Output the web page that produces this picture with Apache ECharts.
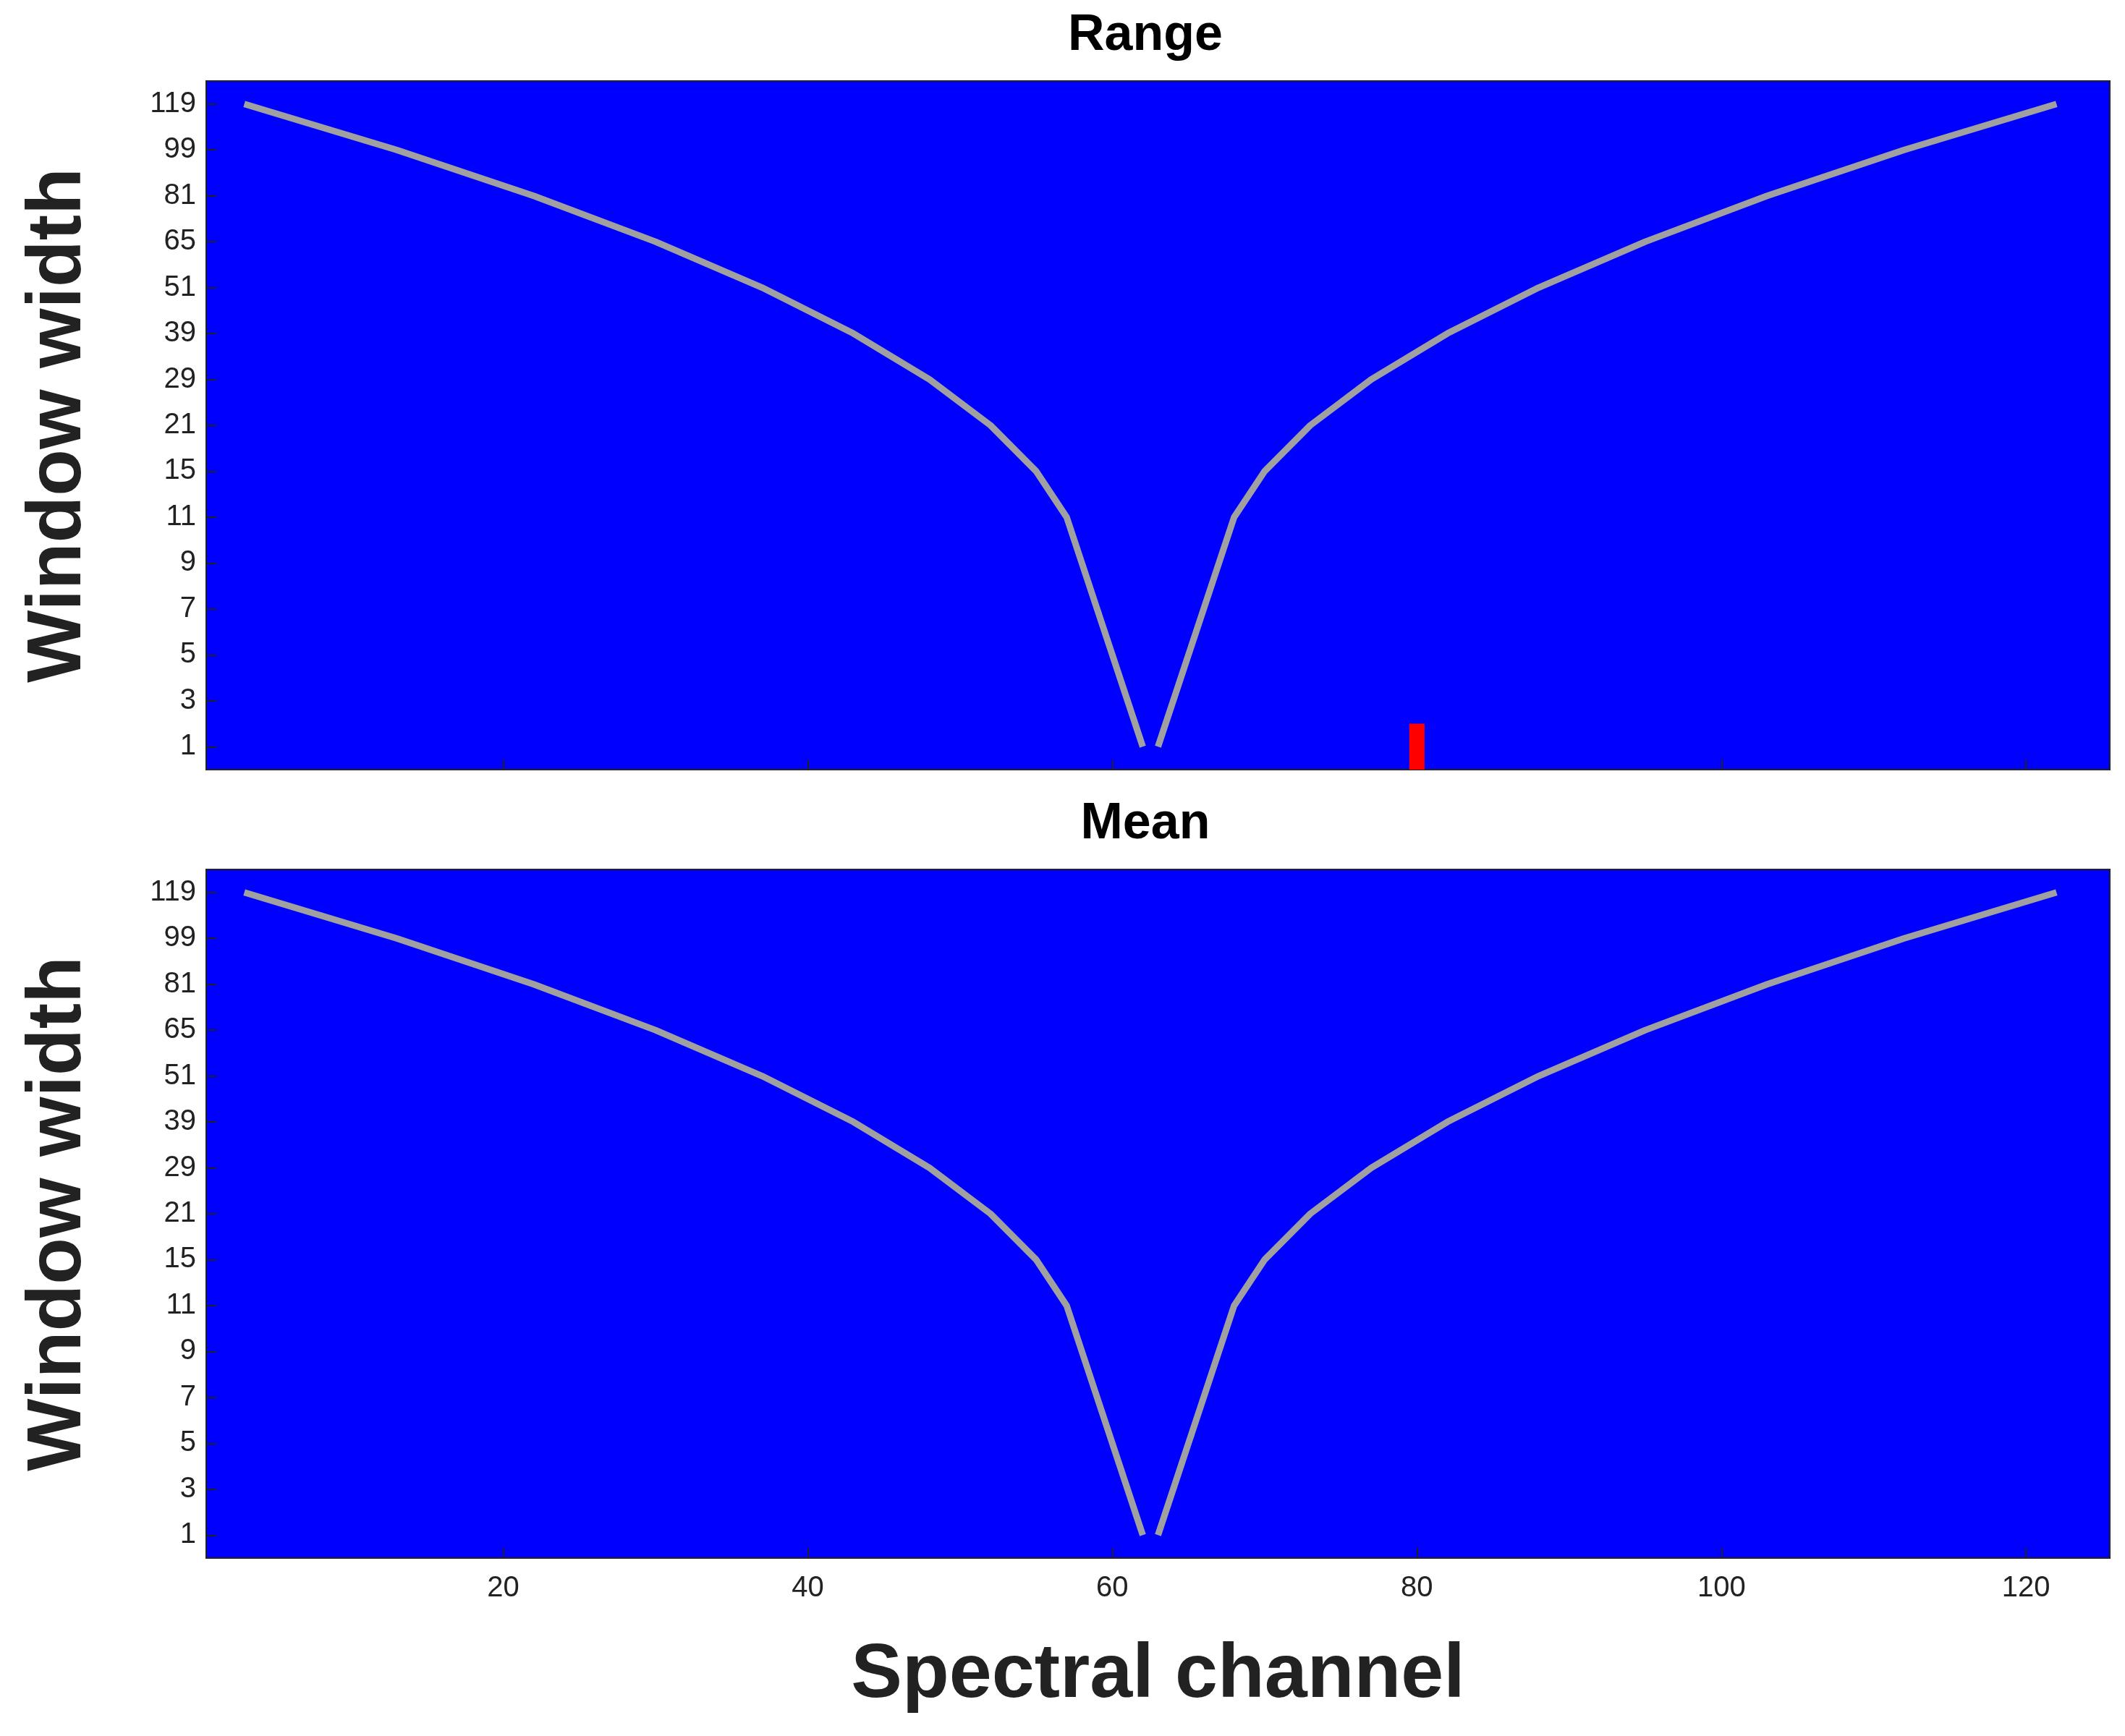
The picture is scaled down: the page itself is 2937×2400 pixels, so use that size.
<!DOCTYPE html>
<html>
<head>
<meta charset="utf-8">
<script src="https://cdn.jsdelivr.net/npm/echarts@6/dist/echarts.min.js"></script>
<style>html,body{margin:0;background:#fff}#c{width:2937px;height:2400px}</style>
</head>
<body>
<div id="c"></div>
<script>
// Window widths (y categories)
const widths = ['1', '3', '5', '7', '9', '11', '15', '21', '29', '39', '51', '65', '81', '99', '119'];
const xTicks = [20, 40, 60, 80, 100, 120];

// Gray boundary line, two branches (channel, window width)
const leftX = [3, 13, 22, 30, 37, 43, 48, 52, 55, 57, 62];
const leftW = ['119', '99', '81', '65', '51', '39', '29', '21', '15', '11', '1'];
const rightX = [63, 68, 70, 73, 77, 82, 88, 95, 103, 112, 122];
const rightW = ['1', '11', '15', '21', '29', '39', '51', '65', '81', '99', '119'];

// Red cells (Range panel only)
const redCells = [[80, '1']];

const font = 'Liberation Sans, Arial, sans-serif';
const grids = [
  { left: 285, right: 21, top: 112, height: 952 },
  { left: 285, right: 21, top: 1202, height: 952 },
];

const chart = echarts.init(document.getElementById('c'));

function pairs(xs, ws) {
  return xs.map((x, i) => [x, ws[i]]);
}

const option = {
  backgroundColor: '#fff',
  animation: false,
  title: [
    { text: 'Range', left: 1578, top: 10, textAlign: 'center', textStyle: { fontFamily: font, fontSize: 70, fontWeight: 'bold', color: '#000' } },
    { text: 'Mean', left: 1578, top: 1100, textAlign: 'center', textStyle: { fontFamily: font, fontSize: 70, fontWeight: 'bold', color: '#000' } },
  ],
  grid: grids.map((g) => ({ ...g, show: true, backgroundColor: '#0000ff', borderColor: '#222', borderWidth: 2 })),
  xAxis: grids.map((g, i) => ({
    type: 'value',
    gridIndex: i,
    min: 0.5,
    max: 125.5,
    splitLine: { show: false },
    axisLine: { show: false },
    axisTick: { show: true, inside: true, length: 14, customValues: xTicks, lineStyle: { color: '#222', width: 2 } },
    axisLabel: { show: i === 1, customValues: xTicks, fontFamily: font, fontSize: 40, color: '#222', margin: 22 },
    name: i === 1 ? 'Spectral channel' : '',
    nameLocation: 'middle',
    nameGap: 110,
    nameTextStyle: { fontFamily: font, fontSize: 106, fontWeight: 'bold', color: '#222' },
  })),
  yAxis: grids.map((g, i) => ({
    type: 'category',
    gridIndex: i,
    data: widths,
    boundaryGap: true,
    axisLine: { show: false },
    axisTick: { show: true, inside: true, alignWithLabel: true, length: 14, lineStyle: { color: '#222', width: 2 } },
    axisLabel: { fontFamily: font, fontSize: 40, color: '#222', margin: 14 },
    name: 'Window width',
    nameLocation: 'middle',
    nameGap: 150,
    nameTextStyle: { fontFamily: font, fontSize: 106, fontWeight: 'bold', color: '#222' },
  })),
  series: [
    {
      type: 'custom',
      xAxisIndex: 0,
      yAxisIndex: 0,
      data: redCells,
      renderItem(params, api) {
        const c = api.coord([api.value(0), api.value(1)]);
        const s = api.size([1, 1]);
        return { type: 'rect', shape: { x: c[0] - s[0] / 2, y: c[1] - s[1] / 2, width: s[0], height: s[1] }, style: { fill: '#ff0000' } };
      },
      encode: { x: 0, y: 1 },
    },
  ],
};

[0, 1].forEach((i) => {
  [pairs(leftX, leftW), pairs(rightX, rightW)].forEach((d) => {
    option.series.push({
      type: 'line',
      xAxisIndex: i,
      yAxisIndex: i,
      data: d,
      showSymbol: false,
      lineStyle: { color: '#a0a0a0', width: 9 },
      z: 5,
    });
  });
});

chart.setOption(option);
</script>
</body>
</html>
